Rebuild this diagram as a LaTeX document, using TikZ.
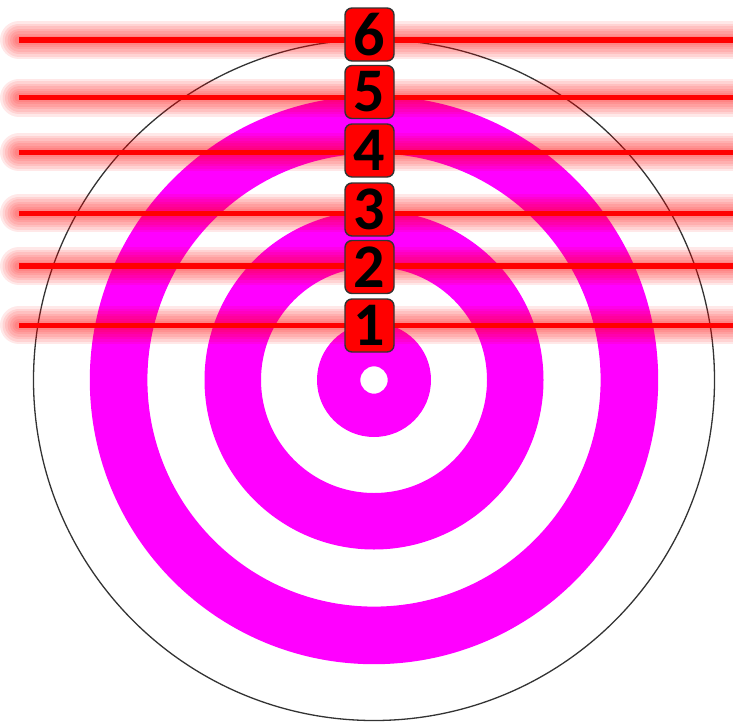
\documentclass[tikz,border=0pt]{standalone}
\usepackage{fontspec}
\setmainfont{Carlito}
\definecolor{mag}{RGB}{255,0,255}
\definecolor{glowred}{RGB}{255,0,0}
\begin{document}
\begin{tikzpicture}[x=1pt,y=-1pt,
  numbox/.style={draw=black!80, line width=1.4pt, fill=red, rounded corners=7pt,
    minimum width=49pt, minimum height=53pt, inner sep=0pt,
    font=\fontsize{62}{62}\selectfont\bfseries, text=black},
  ringfill/.style={fill=mag, even odd rule},
  glow/.style={glowred, opacity=0.09, line cap=round},
  core/.style={glowred, line width=5.5pt}]
\useasboundingbox (0,0) rectangle (733,723);
\coordinate (c) at (374,380);
% rings
\fill[ringfill] (c) circle[radius=57pt] (c) circle[radius=13.7pt];
\fill[ringfill] (c) circle[radius=169.5pt] (c) circle[radius=113pt];
\fill[ringfill] (c) circle[radius=284.2pt] (c) circle[radius=226.6pt];
\draw[black!80, line width=1.3pt] (c) circle[radius=340.5pt];
% glowing lines
\foreach \yy [count=\i] in {325.3,266,213.3,152.3,97.7,40}{
  \coordinate (l\i) at (19,\yy);
  \coordinate (r\i) at (745,\yy);
  \foreach \w in {38,33,28,23,18,13,9}{
    \draw[glow, line width=\w pt] (l\i) -- (r\i);
  }
  \draw[core] (l\i) -- (r\i);
}
% numbered boxes
\node[numbox] (b1) at (369.5,325.5) {\raisebox{-1.5pt}{1}};
\node[numbox] (b2) at (369.5,267) {\raisebox{-1.5pt}{2}};
\node[numbox] (b3) at (369.5,209.5) {\raisebox{-1.5pt}{3}};
\node[numbox] (b4) at (369.5,150.5) {\raisebox{-1.5pt}{4}};
\node[numbox] (b5) at (369.5,92) {\raisebox{-1.5pt}{5}};
\node[numbox] (b6) at (369.5,34.5) {\raisebox{-1.5pt}{6}};
\end{tikzpicture}
\end{document}
